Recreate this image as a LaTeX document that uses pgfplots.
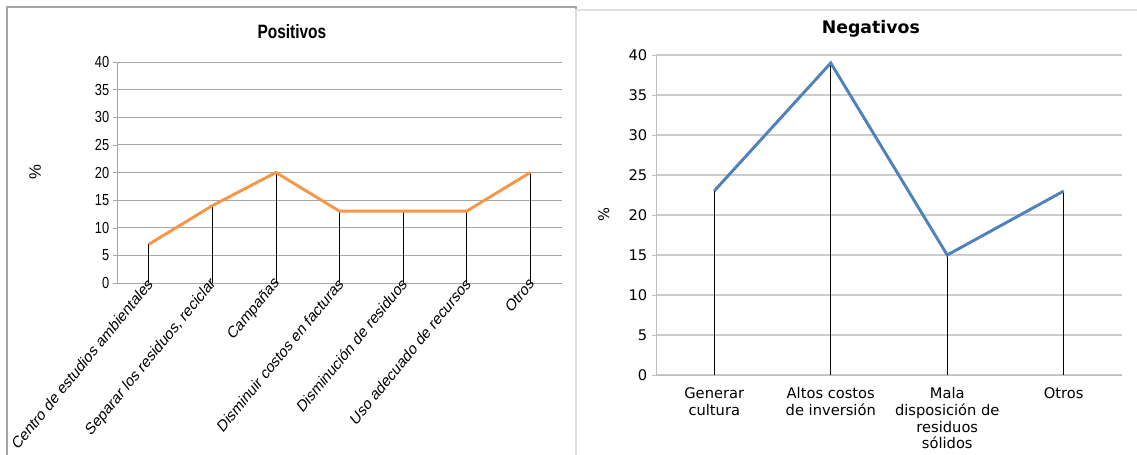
\documentclass[border=0pt]{standalone}
\usepackage{fontspec}
\setmainfont{Liberation Sans}
\newfontfamily\dvs{DejaVu Sans}
\usepackage{pgfplots}
\pgfplotsset{compat=1.18}
\definecolor{excelorange}{HTML}{F79646}
\definecolor{excelblue}{HTML}{4F81BD}
\begin{document}
\begin{tikzpicture}
% 1 px of the reference = 0.75pt
\path[use as bounding box] (0,0) rectangle (852.75pt,340.5pt);
\draw[gray!70, line width=0.8pt] (5.25pt,-2pt) -- (5.25pt,335.25pt) -- (432pt,335.25pt) -- (432pt,-2pt);
\draw[gray!25, line width=0.8pt] (432pt,-2pt) -- (432pt,333pt) -- (856pt,333pt);

% Positivos (the text of this chart is narrow, as in the reference)
\begin{axis}[
  at={(87.75pt,128.25pt)}, anchor=south west,
  scale only axis, width=333.75pt, height=165.75pt,
  xmin=-0.5, xmax=6.5, ymin=0, ymax=40,
  xtick={0,...,6}, ytick={0,5,...,40},
  xticklabels={Centro de estudios ambientales,{Separar los residuos, reciclar},Campañas,Disminuir costos en facturas,Disminución de residuos,Uso adecuado de recursos,Otros},
  axis lines*=left, axis line style={gray!70},
  ymajorgrids, grid style={gray!70, line width=0.6pt},
  tick align=outside, major tick length=3pt,
  xtick style={draw=none}, ytick style={gray!70},
  y tick label style={font=\fontsize{12}{14}\selectfont, xscale=0.8},
  x tick label style={font=\fontsize{12.5}{14}\selectfont, yshift=7pt, xshift=3pt, xscale=0.82, rotate=45, anchor=east},
  /pgf/number format/assume math mode=true,
  ylabel={\%}, ylabel style={at={(axis description cs:-0.184,0.5)}, anchor=center, font=\fontsize{12.5}{14}\selectfont},
  title={Positivos}, title style={at={(axis description cs:0.393,1.136)}, anchor=center, yshift=-6pt, xscale=0.8, font=\bfseries\fontsize{14.5}{16}\selectfont},
]
\addplot[ycomb, black, line width=0.5pt] coordinates {(0,7) (1,14) (2,20) (3,13) (4,13) (5,13) (6,20)};
\addplot[excelorange, line width=2.2pt] coordinates {(0,7) (1,14) (2,20) (3,13) (4,13) (5,13) (6,20)};
\end{axis}

% Negativos
\begin{axis}[
  at={(492pt,59.25pt)}, anchor=south west,
  scale only axis, width=349.5pt, height=240pt,
  xmin=-0.5, xmax=3.5, ymin=0, ymax=40,
  xtick={0,...,3}, ytick={0,5,...,40},
  xticklabels={{Generar\\cultura},{Altos costos\\de inversión},{Mala\\disposición de\\residuos\\sólidos},Otros},
  axis lines*=left, axis line style={gray!50},
  ymajorgrids, grid style={gray!40, line width=0.8pt},
  tick align=outside, major tick length=3pt,
  xtick style={draw=none}, ytick style={gray!50},
  tick label style={font=\dvs\fontsize{11}{12.5}\selectfont},
  x tick label style={align=center, yshift=-3pt},
  /pgf/number format/assume math mode=true,
  ylabel={\%}, ylabel style={at={(axis description cs:-0.112,0.5)}, anchor=center, font=\dvs\fontsize{11}{12}\selectfont},
  title={Negativos}, title style={at={(axis description cs:0.461,1.081)}, anchor=center, yshift=-6pt, font=\dvs\bfseries\fontsize{13}{15}\selectfont},
]
\addplot[ycomb, black, line width=0.5pt] coordinates {(0,23) (1,39) (2,15) (3,23)};
\addplot[excelblue, line width=2.2pt] coordinates {(0,23) (1,39) (2,15) (3,23)};
\end{axis}
\end{tikzpicture}
\end{document}
